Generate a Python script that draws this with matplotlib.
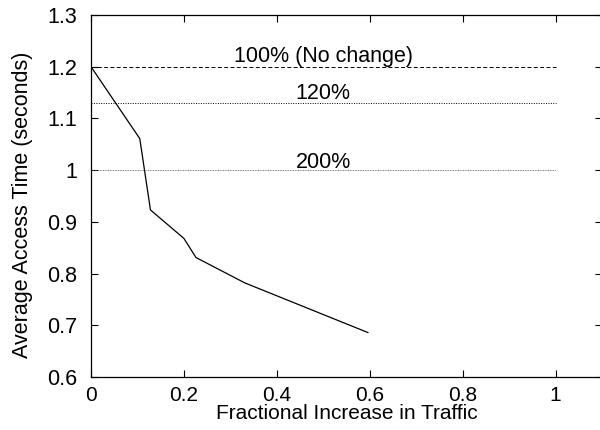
import matplotlib
matplotlib.use("Agg")
import matplotlib.pyplot as plt

plt.rcParams['font.family'] = ['Liberation Sans', 'DejaVu Sans']

traffic = [0.0, 0.105, 0.128, 0.200, 0.226, 0.331, 0.596]
access_time = [1.200, 1.061, 0.923, 0.868, 0.831, 0.782, 0.686]

ref_levels = [1.20, 1.13, 1.00]
ref_labels = ["100% (No change)", "120%", "200%"]
label_baselines = [1.2097, 1.1375, 1.0035]

FS = 15.5

fig = plt.figure(figsize=(6.0, 4.3), dpi=100)
ax = fig.add_axes([91/600, 1 - 377/430, 511/600, 362/430])

ax.plot(traffic, access_time, color='black', lw=0.9)

styles = [dict(ls=(0, (4, 2.5)), color='black', lw=0.7),
          dict(ls=(0, (1, 1.5)), color='black', lw=0.7),
          dict(ls=(0, (1, 1)), color='#555555', lw=0.6)]
for lvl, lab, st, yb in zip(ref_levels, ref_labels, styles, label_baselines):
    ax.plot([0, 1.0], [lvl, lvl], **st)
    ax.text(0.5, yb, lab, ha='center', va='baseline', fontsize=FS)

ax.set_xlim(0, 1.1)
ax.set_ylim(0.6, 1.3)
ax.set_xticks([0, 0.2, 0.4, 0.6, 0.8, 1.0])
ax.set_xticklabels(["0", "0.2", "0.4", "0.6", "0.8", "1"])
ax.set_yticks([0.6, 0.7, 0.8, 0.9, 1.0, 1.1, 1.2, 1.3])
ax.set_yticklabels(["0.6", "0.7", "0.8", "0.9", "1", "1.1", "1.2", "1.3"])
ax.tick_params(direction='in', top=True, right=True, length=5, width=0.8,
               colors='black')
ax.tick_params(axis='y', pad=10, labelsize=FS)
ax.tick_params(axis='x', pad=6.5, labelsize=15)
for s in ax.spines.values():
    s.set_linewidth(0.9)

ax.set_xlabel("Fractional Increase in Traffic", fontsize=15)
ax.xaxis.set_label_coords(0.5, (377 - 419) / 362)
ax.xaxis.label.set_va('baseline')

ax.set_ylabel("Average Access Time (seconds)", fontsize=FS)
ax.yaxis.set_label_coords((28 - 91) / 511, (377 - 204.5) / 362)
ax.yaxis.label.set_va('baseline')
ax.yaxis.label.set_rotation_mode('anchor')

fig.savefig("out.png", dpi=100)
